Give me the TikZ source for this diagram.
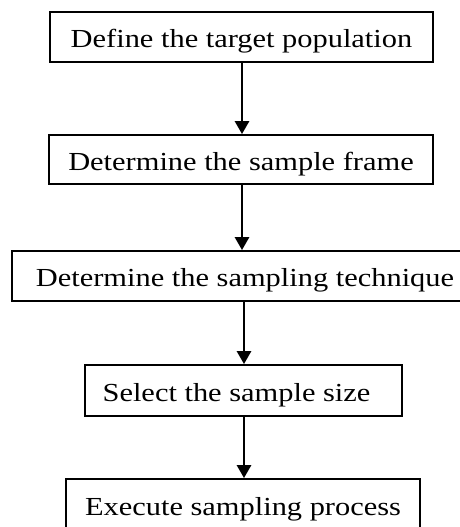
\documentclass[tikz,border=0pt]{standalone}
\usepackage{fontspec}
\setmainfont[FakeStretch=1.17]{Liberation Serif}
\usetikzlibrary{arrows.meta}
\begin{document}
\begin{tikzpicture}[x=1pt,y=-1pt,
  stepbox/.style={draw=black,line width=1.8pt,inner sep=0pt,rectangle,
    text height=21pt,text depth=0pt,
    font=\fontsize{26}{30}\selectfont},
  flow/.style={line width=2.8pt,-{Triangle[width=14pt,length=13pt]}}]
\useasboundingbox (0,0) rectangle (460,527);
\clip (0,0) rectangle (460,527);
\node[stepbox,minimum width=383pt,minimum height=50pt] (b1) at (241.5,37) {Define the target population};
\node[stepbox,minimum width=384pt,minimum height=49pt] (b2) at (241,159.5) {Determine the sample frame};
\node[stepbox,minimum width=466pt,minimum height=50pt] (b3) at (245,276) {Determine the sampling technique};
\node[stepbox,minimum width=317pt,minimum height=51pt] (b4) at (243.5,390.5) {Select the sample size\kern14pt};
\node[stepbox,minimum width=354pt,minimum height=52pt] (b5) at (243,505) {Execute sampling process};
\coordinate (a1) at (242,0);
\coordinate (a2) at (244,0);
\draw[flow] (b1.south -| a1) -- (b2.north -| a1);
\draw[flow] (b2.south -| a1) -- (b3.north -| a1);
\draw[flow] (b3.south -| a2) -- (b4.north -| a2);
\draw[flow] (b4.south -| a2) -- (b5.north -| a2);
\end{tikzpicture}
\end{document}
